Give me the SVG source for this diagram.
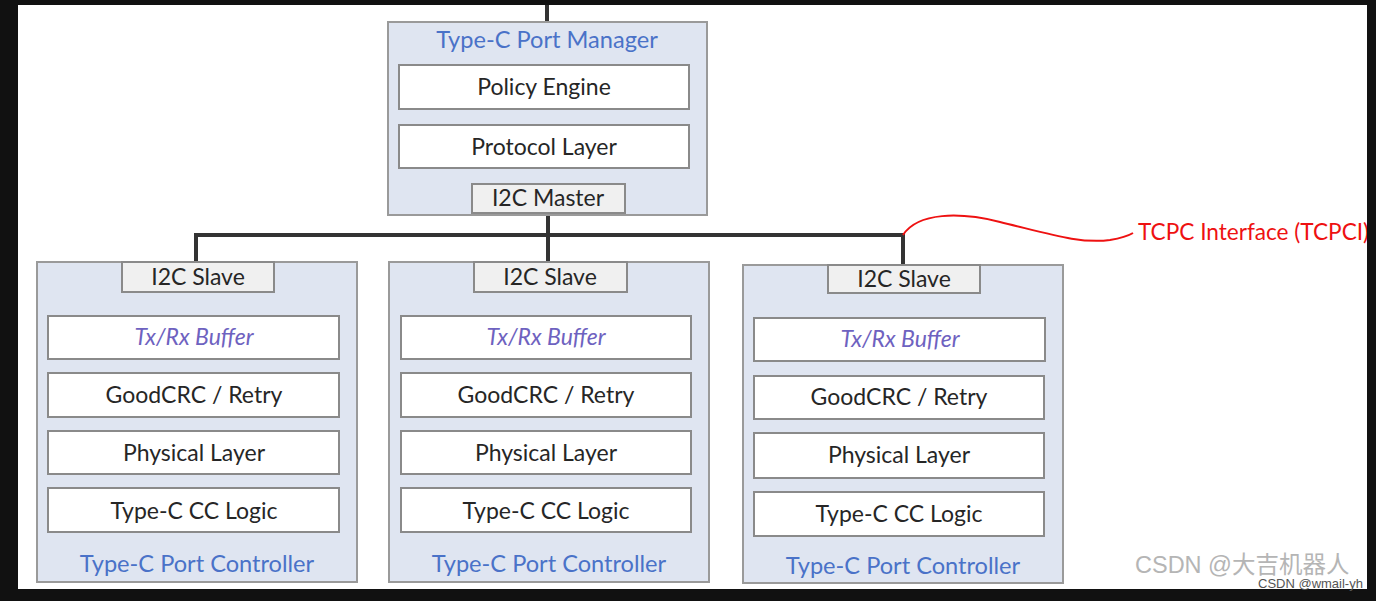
<svg xmlns="http://www.w3.org/2000/svg" width="1376" height="601" viewBox="0 0 1376 601">
<style>
.outer{fill:#dfe5f1;stroke:#9a9a9a;stroke-width:2}
.inner{fill:#ffffff;stroke:#8a8a8a;stroke-width:2}
.i2c{fill:#f0f0f0;stroke:#8a8a8a;stroke-width:2}
.t{font-family:Lato,"Open Sans",sans-serif;font-size:23px;fill:#262626;text-anchor:middle}
.title{font-family:Lato,"Open Sans",sans-serif;font-size:23.6px;fill:#4a72c8;text-anchor:middle}
.it{font-family:Lato,"Open Sans",sans-serif;font-size:23px;fill:#6e62c0;font-style:italic;text-anchor:middle}
.bus{fill:none;stroke:#333333;stroke-width:4}
</style>
<rect x="0" y="0" width="1376" height="601" fill="#111111"/>
<rect x="18" y="5" width="1349" height="584" fill="#ffffff"/>

<g id="connectors">
<line class="bus" x1="547" y1="5" x2="547" y2="22" stroke-width="3"/>
<path class="bus" d="M196 262 V235 H903 V265"/>
<line class="bus" x1="548" y1="213" x2="548" y2="262"/>
<path d="M903 235 C918 212 960 212 1000 222 C1050 234 1080 244 1110 240 C1122 238 1128 236 1133 233" fill="none" stroke="#ee1111" stroke-width="2"/>
</g>

<g id="port-manager">
<rect class="outer" x="388" y="22" width="319" height="193"/>
<text class="title" x="547" y="48">Type-C Port Manager</text>
<rect class="inner" x="399" y="65" width="290" height="44"/>
<text class="t" x="544" y="95">Policy Engine</text>
<rect class="inner" x="399" y="125" width="290" height="43"/>
<text class="t" x="544" y="155">Protocol Layer</text>
<rect class="i2c" x="472" y="184" width="153" height="29"/>
<text class="t" x="548" y="206">I2C Master</text>
</g>

<g id="controller-1">
<rect class="outer" x="37" y="262" width="320" height="320"/>
<rect class="i2c" x="122" y="262" width="152" height="30"/>
<text class="t" x="198" y="285">I2C Slave</text>
<rect class="inner" x="48" y="316" width="291" height="43"/>
<text class="it" x="194" y="345">Tx/Rx Buffer</text>
<rect class="inner" x="48" y="373" width="291" height="44"/>
<text class="t" x="194" y="403">GoodCRC / Retry</text>
<rect class="inner" x="48" y="431" width="291" height="43"/>
<text class="t" x="194" y="461">Physical Layer</text>
<rect class="inner" x="48" y="488" width="291" height="44"/>
<text class="t" x="194" y="519">Type-C CC Logic</text>
<text class="title" x="197" y="572">Type-C Port Controller</text>
</g>

<g id="controller-2">
<rect class="outer" x="389" y="262" width="320" height="320"/>
<rect class="i2c" x="474" y="262" width="153" height="30"/>
<text class="t" x="550" y="285">I2C Slave</text>
<rect class="inner" x="401" y="316" width="290" height="43"/>
<text class="it" x="546" y="345">Tx/Rx Buffer</text>
<rect class="inner" x="401" y="373" width="290" height="44"/>
<text class="t" x="546" y="403">GoodCRC / Retry</text>
<rect class="inner" x="401" y="431" width="290" height="43"/>
<text class="t" x="546" y="461">Physical Layer</text>
<rect class="inner" x="401" y="488" width="290" height="44"/>
<text class="t" x="546" y="519">Type-C CC Logic</text>
<text class="title" x="549" y="572">Type-C Port Controller</text>
</g>

<g id="controller-3">
<rect class="outer" x="743" y="265" width="320" height="318"/>
<rect class="i2c" x="828" y="265" width="152" height="28"/>
<text class="t" x="904" y="287">I2C Slave</text>
<rect class="inner" x="754" y="318" width="291" height="43"/>
<text class="it" x="900" y="347">Tx/Rx Buffer</text>
<rect class="inner" x="754" y="376" width="290" height="43"/>
<text class="t" x="899" y="405">GoodCRC / Retry</text>
<rect class="inner" x="754" y="433" width="290" height="45"/>
<text class="t" x="899" y="463">Physical Layer</text>
<rect class="inner" x="754" y="492" width="290" height="44"/>
<text class="t" x="899" y="522">Type-C CC Logic</text>
<text class="title" x="903" y="574">Type-C Port Controller</text>
</g>

<g id="tcpci-label">
<text x="1138" y="240" font-family="Lato,'Open Sans',sans-serif" font-size="22.6" fill="#ee1111">TCPC Interface (TCPCI)</text>
</g>

<g id="watermark">
<text x="1135" y="573" font-family="'Liberation Sans','Noto Sans CJK SC',sans-serif" font-size="23.5" fill="#b5b5b5">CSDN @大吉机器人</text>
<text x="1258" y="588" font-family="'Liberation Sans',sans-serif" font-size="13" fill="#555555">CSDN @wmail-yh</text>
</g>
<rect x="1367" y="0" width="9" height="601" fill="#111111"/>
</svg>
